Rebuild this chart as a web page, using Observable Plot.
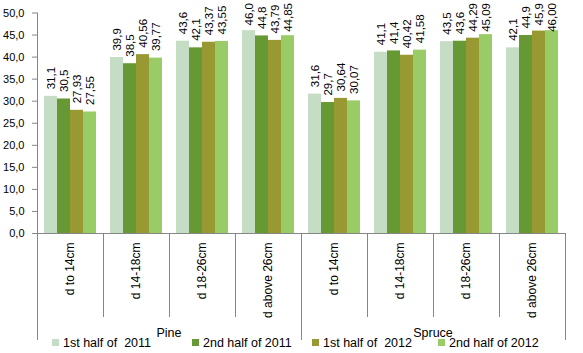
<!DOCTYPE html>
<html><head><meta charset="utf-8">
<script src="https://cdn.jsdelivr.net/npm/d3@7"></script>
<script src="https://cdn.jsdelivr.net/npm/@observablehq/plot@0.6"></script>
<style>
html,body{margin:0;padding:0;background:#fff;}
#chart{position:relative;width:583px;height:353px;font-family:"Liberation Sans",Arial,sans-serif;}
#chart svg{overflow:visible;}
#chart svg text{fill:#000;}
#chart g[aria-label="y-axis tick label"]{font-size:11px;}
#chart g[aria-label="fx-axis tick label"]{font-size:12px;}
.legend{position:absolute;top:336px;left:0;width:583px;height:14px;font-size:12.5px;color:#000;}
.legend .item{position:absolute;top:0;white-space:pre;line-height:14px;}
.legend .sw{display:inline-block;width:7px;height:7px;margin-right:4px;vertical-align:1px;}
</style></head><body><div id="chart"></div>
<script>
// ---- data ----
const species = ["Pine", "Spruce"];
const categories = ["d to 14cm", "d 14-18cm", "d 18-26cm", "d above 26cm"];
const seriesNames = ["1st half of  2011", "2nd half of 2011", "1st half of  2012", "2nd half of 2012"];
const s2011a = [31.1, 39.9, 43.6, 46.0, 31.6, 41.1, 43.5, 42.1];
const s2011b = [30.5, 38.5, 42.1, 44.8, 29.7, 41.4, 43.6, 44.9];
const s2012a = [27.93, 40.56, 43.37, 43.79, 30.64, 40.42, 44.29, 45.9];
const s2012b = [27.55, 39.77, 43.55, 44.85, 30.07, 41.58, 45.09, 46.00];
const yTicks = [0, 5, 10, 15, 20, 25, 30, 35, 40, 45, 50];

// ---- styles ----
const colors = ["#C4DDC4", "#669933", "#999933", "#99CC66"];
const labelFormats = [".1f", ".1f", ".2~f", ".2f"];
const legendLeft = [52, 192, 312, 438];

const seriesValues = [s2011a, s2011b, s2012a, s2012b];
const comma = s => s.replace(".", ",");
const keys = [];
species.forEach(sp => categories.forEach(c => keys.push(sp + "|" + c)));
const rows = [];
keys.forEach((k, i) => {
  seriesNames.forEach((s, j) => {
    const v = seriesValues[j][i];
    rows.push({key: k, series: s, value: v, label: comma(d3.format(labelFormats[j])(v))});
  });
});

const plot = Plot.plot({
  width: 583, height: 353,
  marginTop: 12.5, marginBottom: 120, marginLeft: 35, marginRight: 16,
  style: {fontFamily: "Liberation Sans, Arial, sans-serif", fontSize: "11px", background: "white", color: "#868686", overflow: "visible"},
  fx: {domain: keys, padding: 0, axis: "bottom", tickRotate: -90, tickSize: 0, tickPadding: 9, tickFormat: k => k.split("|")[1], label: null},
  x: {domain: seriesNames, paddingInner: 0, paddingOuter: 0.42, axis: null},
  y: {domain: [0, 50], ticks: yTicks, tickFormat: d => comma(d3.format(".1f")(d)), tickSize: 5, tickPadding: 8, line: true, label: null},
  color: {domain: seriesNames, range: colors},
  marks: [
    Plot.barY(rows, {fx: "key", x: "series", y: "value", fill: "series"}),
    Plot.ruleY([0], {stroke: "#868686"}),
    Plot.text(rows, {fx: "key", x: "series", y: "value", text: "label", rotate: -90, textAnchor: "start", dy: -7, fontSize: 11.5, fill: "#000"})
  ]
});
const chart = document.getElementById("chart");
chart.appendChild(plot);

// separators and group labels from the fx scale
const fx = plot.scale("fx");
const y = plot.scale("y");
const y0 = Math.round(y.apply(0));
const svg = d3.select(plot);
const sep = svg.append("g").attr("stroke", "#868686").attr("fill", "none");
for (let i = 0; i <= keys.length; i++) {
  const xv = i < keys.length ? fx.apply(keys[i]) : fx.apply(keys[keys.length - 1]) + fx.bandwidth;
  const xx = Math.round(xv) + 0.5;
  const long = i % categories.length === 0;
  sep.append("line").attr("x1", xx).attr("x2", xx).attr("y1", y0).attr("y2", long ? 340 : 317);
}
species.forEach((sp, si) => {
  const a = fx.apply(keys[si * categories.length]);
  const b = fx.apply(keys[si * categories.length + categories.length - 1]) + fx.bandwidth;
  svg.append("text").attr("x", (a + b) / 2).attr("y", 337).attr("text-anchor", "middle")
    .attr("font-size", 12.5).text(sp);
});

// keep value labels inside the chart (like the original)
const svgRect = plot.getBoundingClientRect();
svg.selectAll('g[aria-label="text"] text').each(function () {
  const r = this.getBoundingClientRect();
  const top = r.top - svgRect.top;
  if (top < 3) this.setAttribute("x", -(3 - top));
});

// legend
const legend = document.createElement("div");
legend.className = "legend";
seriesNames.forEach((s, i) => {
  const it = document.createElement("div");
  it.className = "item";
  it.style.left = legendLeft[i] + "px";
  const sw = document.createElement("span");
  sw.className = "sw";
  sw.style.background = colors[i];
  it.appendChild(sw);
  it.appendChild(document.createTextNode(s));
  legend.appendChild(it);
});
chart.appendChild(legend);
</script></body></html>
